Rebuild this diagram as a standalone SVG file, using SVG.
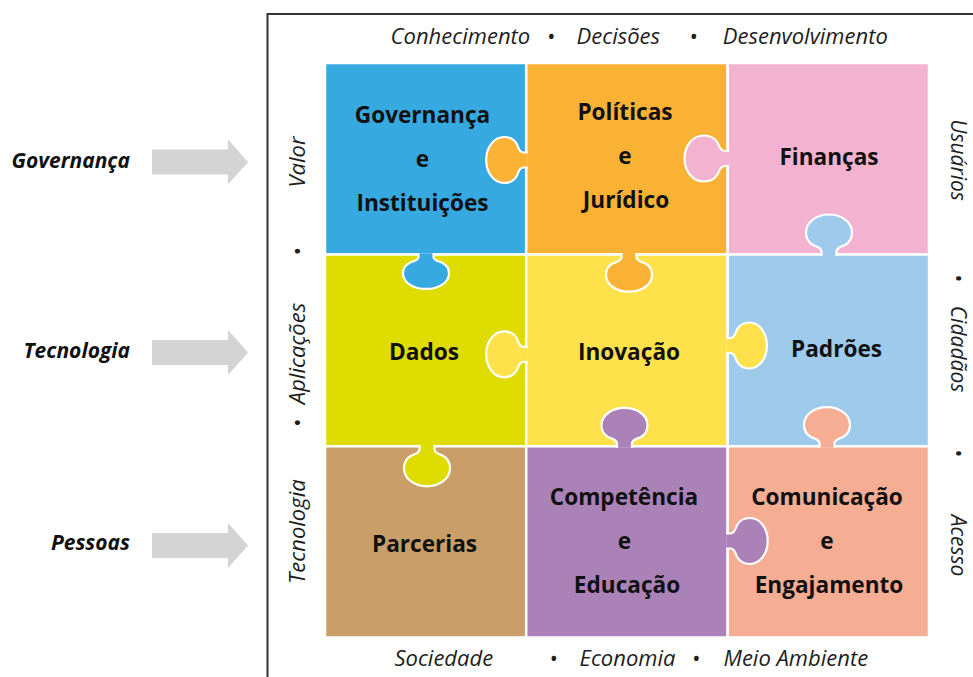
<svg xmlns="http://www.w3.org/2000/svg" xmlns:xlink="http://www.w3.org/1999/xlink" width="973" height="677" viewBox="0 0 973 677">
<style>
.cell{stroke:#ffffff;stroke-width:2.5}
.knob{stroke:#ffffff;stroke-width:2.2;stroke-linejoin:round}
.lbl{font-family:"Open Sans","Noto Sans","DejaVu Sans",sans-serif;font-weight:700;font-size:22.6px;fill:#111111;text-anchor:middle}
.side{font-family:"Open Sans","Noto Sans","DejaVu Sans",sans-serif;font-style:italic;font-size:22px;fill:#1e1e1e;text-anchor:middle}
.sider{font-size:21px}
.left{font-family:"Open Sans","Noto Sans","DejaVu Sans",sans-serif;font-style:italic;font-weight:700;font-size:21px;fill:#111111;text-anchor:end}
.arr{fill:#d4d4d4}
</style>
<defs>
<path id="knobShape" vector-effect="non-scaling-stroke" d="M -7.5,-1.5 L -7.5,3 C -7.5,7 -12,7.5 -16,9.5 C -20.5,12 -23,16.5 -23,22 C -23,32.5 -12.5,40 0,40 C 12.5,40 23,32.5 23,22 C 23,16.5 20.5,12 16,9.5 C 12,7.5 7.5,7 7.5,3 L 7.5,-1.5"/>
<path id="arrowShape" d="M152,-12.5 H228 V-22.5 L248,0 L228,22.5 V12.5 H152 Z"/>
</defs>
<rect width="973" height="677" fill="#ffffff"/>
<g id="frame">
<path d="M267.5,677 V14 H973" fill="none" stroke="#333333" stroke-width="2"/>
</g>
<g id="left-arrows">
<use xlink:href="#arrowShape" class="arr" transform="translate(0,162)"/>
<use xlink:href="#arrowShape" class="arr" transform="translate(0,352.5)"/>
<use xlink:href="#arrowShape" class="arr" transform="translate(0,545.5)"/>
<text class="left" x="130" y="168">Governança</text>
<text class="left" x="130" y="358">Tecnologia</text>
<text class="left" x="130" y="550">Pessoas</text>
</g>
<g id="cells">
<rect id="cell-governanca" class="cell" x="325" y="63" width="201.2" height="191.5" fill="#36a9e1"/>
<rect id="cell-politicas" class="cell" x="526.2" y="63" width="201.5" height="191.5" fill="#f9b233"/>
<rect id="cell-financas" class="cell" x="727.7" y="63" width="201.3" height="191.5" fill="#f4b2d1"/>
<rect id="cell-dados" class="cell" x="325" y="254.5" width="201.2" height="191.8" fill="#dedc00"/>
<rect id="cell-inovacao" class="cell" x="526.2" y="254.5" width="201.5" height="191.8" fill="#ffe14b"/>
<rect id="cell-padroes" class="cell" x="727.7" y="254.5" width="201.3" height="191.8" fill="#9ecaeb"/>
<rect id="cell-parcerias" class="cell" x="325" y="446.3" width="201.2" height="191.2" fill="#c99e68"/>
<rect id="cell-competencia" class="cell" x="526.2" y="446.3" width="201.5" height="191.2" fill="#ab82b8"/>
<rect id="cell-comunicacao" class="cell" x="727.7" y="446.3" width="201.3" height="191.2" fill="#f5ad94"/>
</g>
<g id="connectors">
<use xlink:href="#knobShape" class="knob" fill="#f9b233" transform="translate(526.2,160) rotate(90)"/>
<use xlink:href="#knobShape" class="knob" fill="#f4b2d1" transform="translate(727.7,158.5) rotate(90) scale(1,1.08)"/>
<use xlink:href="#knobShape" class="knob" fill="#36a9e1" transform="translate(426,254.5) scale(1,0.86)"/>
<use xlink:href="#knobShape" class="knob" fill="#f9b233" transform="translate(629,254.5) scale(1,0.93)"/>
<use xlink:href="#knobShape" class="knob" fill="#9ecaeb" transform="translate(829,254.5) rotate(180)"/>
<use xlink:href="#knobShape" class="knob" fill="#ffe14b" transform="translate(526.2,354.3) rotate(90)"/>
<use xlink:href="#knobShape" class="knob" fill="#ffe14b" transform="translate(727.7,345.5) rotate(-90) scale(1,0.98)"/>
<use xlink:href="#knobShape" class="knob" fill="#ab82b8" transform="translate(624.5,446.3) rotate(180) scale(1,0.96)"/>
<use xlink:href="#knobShape" class="knob" fill="#f5ad94" transform="translate(827,446.3) rotate(180) scale(1,0.98)"/>
<use xlink:href="#knobShape" class="knob" fill="#ab82b8" transform="translate(727.7,541) rotate(-90)"/>
<use xlink:href="#knobShape" class="knob" fill="#dedc00" transform="translate(427,446.3)"/>
</g>
<g id="labels">
<text class="lbl" x="422.5" y="123">Governança</text>
<text class="lbl" x="422.5" y="167">e</text>
<text class="lbl" x="422.5" y="211">Instituições</text>
<text class="lbl" x="625" y="120">Políticas</text>
<text class="lbl" x="625" y="164">e</text>
<text class="lbl" x="626" y="208">Jurídico</text>
<text class="lbl" x="829" y="165">Finanças</text>
<text class="lbl" x="424" y="360">Dados</text>
<text class="lbl" x="629" y="360">Inovação</text>
<text class="lbl" x="836.5" y="357">Padrões</text>
<text class="lbl" x="424.5" y="552">Parcerias</text>
<text class="lbl" x="624" y="505">Competência</text>
<text class="lbl" x="624.5" y="549">e</text>
<text class="lbl" x="627" y="593">Educação</text>
<text class="lbl" x="827" y="505">Comunicação</text>
<text class="lbl" x="827" y="549">e</text>
<text class="lbl" x="829" y="593">Engajamento</text>
</g>
<g id="side-top">
<text class="side" x="460.4" y="44">Conhecimento</text>
<text class="side" x="551" y="44">•</text>
<text class="side" x="618.3" y="44">Decisões</text>
<text class="side" x="693.3" y="44">•</text>
<text class="side" x="805.3" y="44">Desenvolvimento</text>
</g>
<g id="side-bottom">
<text class="side" x="443.8" y="666">Sociedade</text>
<text class="side" x="553.3" y="666">•</text>
<text class="side" x="627.5" y="666">Economia</text>
<text class="side" x="696" y="666">•</text>
<text class="side" x="795.8" y="666">Meio Ambiente</text>
</g>
<g id="side-left">
<text class="side" transform="translate(305,162) rotate(-90)">Valor</text>
<text class="side" transform="translate(305,251.7) rotate(-90)">•</text>
<text class="side" transform="translate(305,353.5) rotate(-90)">Aplicações</text>
<text class="side" transform="translate(305,423) rotate(-90)">•</text>
<text class="side" transform="translate(305,531.5) rotate(-90)">Tecnologia</text>
</g>
<g id="side-right">
<text class="side sider" transform="translate(950.5,160) rotate(90)">Usuários</text>
<text class="side sider" transform="translate(950.5,278) rotate(90)">•</text>
<text class="side sider" transform="translate(950.5,349) rotate(90)">Cidadãos</text>
<text class="side sider" transform="translate(950.5,453) rotate(90)">•</text>
<text class="side sider" transform="translate(950.5,545.5) rotate(90)">Acesso</text>
</g>
</svg>
